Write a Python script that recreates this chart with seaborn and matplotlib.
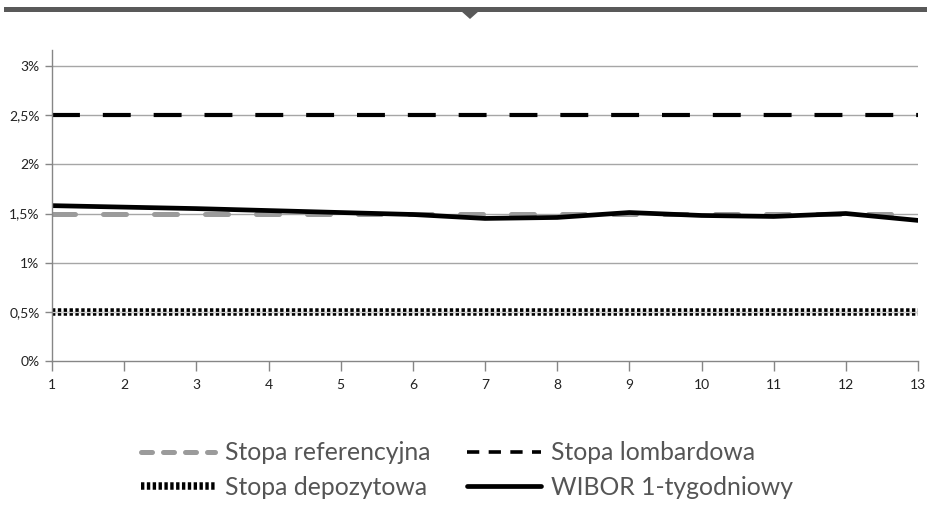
import numpy as np
import pandas as pd
import matplotlib
matplotlib.use("Agg")
import matplotlib.pyplot as plt
from matplotlib.lines import Line2D
from matplotlib.patches import Polygon, Rectangle
import seaborn as sns

# dane
okresy = list(range(1, 14))
stopa_referencyjna = [1.5] * 13
stopa_lombardowa = [2.5] * 13
stopa_depozytowa = [0.5] * 13
wibor_1t = [1.58, 1.565, 1.55, 1.53, 1.51, 1.49, 1.45, 1.46, 1.51, 1.48, 1.47, 1.50, 1.43]

y_ticki = [0, 0.5, 1, 1.5, 2, 2.5, 3]
y_etykiety = ["0%", "0,5%", "1%", "1,5%", "2%", "2,5%", "3%"]

sns.set_theme(style="white")
plt.rcParams['font.family'] = ['Lato', 'DejaVu Sans']

fig = plt.figure(figsize=(9.31, 5.05), dpi=100)
ax = fig.add_axes([52 / 931, 1 - 361 / 505, (918 - 52) / 931, (361 - 50) / 505])

szary_siatki = "#a6a6a6"
for y in y_ticki[1:]:
    ax.axhline(y, color=szary_siatki, lw=1.0, zorder=1)

# stopa depozytowa - gruba kropkowana
sns.lineplot(x=okresy, y=stopa_depozytowa, ax=ax, color="black", linewidth=5.4,
             linestyle=(0, (0.45, 0.33)), zorder=3)
sns.lineplot(x=okresy, y=stopa_depozytowa, ax=ax, color="#d0d0d0", linewidth=0.9, zorder=4)

# stopa referencyjna
l_ref = sns.lineplot(x=okresy, y=stopa_referencyjna, ax=ax, color="#9b9b9b", linewidth=3.6,
                     linestyle=(0, (4.6, 5.6)), zorder=3).lines[-1]
l_ref.set_dash_capstyle("round")

# WIBOR
sns.lineplot(x=okresy, y=wibor_1t, ax=ax, color="black", linewidth=3.4, zorder=5)

# stopa lombardowa
sns.lineplot(x=okresy, y=stopa_lombardowa, ax=ax, color="black", linewidth=3.0,
             linestyle=(0, (6.7, 5.5)), zorder=3)

ax.set_xlim(1, 13)
ax.set_ylim(0, 3.163)
ax.set_xticks(okresy)
ax.set_xticklabels([str(o) for o in okresy])
ax.set_yticks(y_ticki)
ax.set_yticklabels(y_etykiety)

for s in ["top", "right"]:
    ax.spines[s].set_visible(False)
for s in ["left", "bottom"]:
    ax.spines[s].set_color("#868686")
    ax.spines[s].set_linewidth(1.0)
    ax.spines[s].set_zorder(6)

ax.tick_params(axis="x", direction="out", length=7, width=1, color="#868686",
               labelsize=10, labelcolor="#222222", pad=6, bottom=True)
ax.tick_params(axis="y", direction="out", length=5, width=1, color="#868686",
               labelsize=10, labelcolor="#222222", pad=4, left=True)

# legenda (kolejnosc kolumnami: ref, depo | lomb, wibor)
h_ref = Line2D([], [], color="#9b9b9b", lw=3.6, linestyle=(0, (2.2, 2.2)), dash_capstyle="round")
h_lomb = Line2D([], [], color="black", lw=2.6, linestyle=(0, (3.4, 2.6)))
h_depo = Line2D([], [], color="black", lw=5.4, linestyle=(0, (0.45, 0.33)))
h_wibor = Line2D([], [], color="black", lw=3.4)
uchwyty = [h_ref, h_depo, h_lomb, h_wibor]
etykiety = ["Stopa referencyjna", "Stopa depozytowa", "Stopa lombardowa", "WIBOR 1-tygodniowy"]
leg = fig.legend(uchwyty, etykiety, loc="center", bbox_to_anchor=(467 / 931, 1 - 470 / 505),
                 ncol=2, frameon=False, fontsize=17.8, handlelength=3.0, handletextpad=0.4,
                 columnspacing=1.45, labelspacing=0.45, borderpad=0)
for t in leg.get_texts():
    t.set_color("#555555")

# pasek na górze ze strzałką
kolor_paska = "#595959"
fig.add_artist(Rectangle((4 / 931, 1 - 12 / 505), 923 / 931, 4.5 / 505,
                         transform=fig.transFigure, color=kolor_paska, lw=0))
fig.add_artist(Polygon([(461 / 931, 1 - 11 / 505), (479 / 931, 1 - 11 / 505), (470 / 931, 1 - 19 / 505)],
                       closed=True, transform=fig.transFigure, color=kolor_paska, lw=0))

fig.savefig("out.png", dpi=100)
